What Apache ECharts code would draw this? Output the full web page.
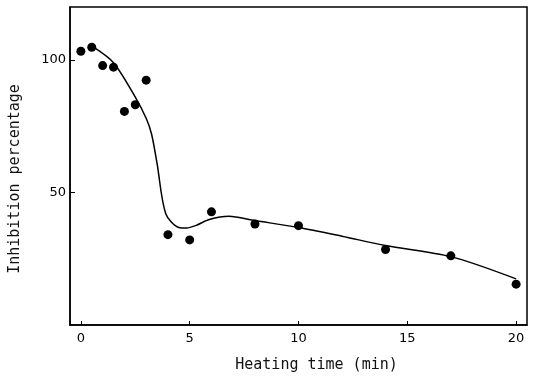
<!DOCTYPE html>
<html>
<head>
<meta charset="utf-8">
<script src="https://cdn.jsdelivr.net/npm/echarts@6/dist/echarts.min.js"></script>
<style>
  html, body { margin: 0; padding: 0; background: #fff; }
  #chart { width: 540px; height: 380px; }
</style>
</head>
<body>
<div id="chart"></div>
<script>
  // measured points
  var heatTime = [0, 0.5, 1, 1.5, 2, 2.5, 3, 4, 5, 6, 8, 10, 14, 17, 20]
  var inhibition = [103.3, 104.8, 97.9, 97.3, 80.6, 83.1, 92.4, 34.1, 32.1, 42.7, 38.1, 37.5, 28.5, 26.1, 15.4]

  // fitted curve drawn by hand in the original
  var curveX = [0.6, 1.5, 2.5, 3.0, 3.25, 3.5, 3.9, 4.5, 4.85, 5.3, 5.9, 6.8, 8, 10, 12, 14, 17, 20]
  var curveY = [104.8, 99, 86, 78, 72, 61, 42, 36.8, 36.6, 37.6, 39.8, 41, 39.4, 36.8, 33.5, 30, 25.8, 17.4]

  var xTicks = [0, 5, 10, 15, 20]
  var yTicks = [50, 100]

  var chart = echarts.init(document.getElementById('chart'))

  var option = {
    animation: false,
    grid: {
      left: 69,
      right: 13,
      top: 7,
      bottom: 55,
      show: true,
      borderColor: '#000',
      borderWidth: 1.5
    },
    xAxis: {
      type: 'value',
      min: -0.5,
      max: 20.5,
      name: 'Heating time (min)',
      nameLocation: 'middle',
      nameGap: 33,
      nameTextStyle: {
        fontFamily: 'DejaVu Sans Mono',
        fontSize: 15,
        color: '#111',
        padding: [0, 0, 0, 36]
      },
      splitLine: { show: false },
      axisLine: { onZero: false, lineStyle: { color: '#000', width: 1.5 } },
      axisTick: { inside: true, length: 4, customValues: xTicks, lineStyle: { color: '#000' } },
      axisLabel: {
        customValues: xTicks,
        margin: 7,
        fontFamily: 'DejaVu Sans',
        fontSize: 13,
        color: '#000'
      }
    },
    yAxis: {
      type: 'value',
      min: 0,
      max: 120,
      name: 'Inhibition percentage',
      nameLocation: 'middle',
      nameGap: 47,
      nameTextStyle: {
        fontFamily: 'DejaVu Sans Mono',
        fontSize: 15,
        color: '#111',
        padding: [0, 26, 0, 0]
      },
      splitLine: { show: false },
      axisLine: { show: true, onZero: false, lineStyle: { color: '#000', width: 1.5 } },
      axisTick: { show: true, inside: true, length: 5, customValues: yTicks, lineStyle: { color: '#000' } },
      axisLabel: {
        customValues: yTicks,
        margin: 4,
        fontFamily: 'DejaVu Sans',
        fontSize: 13,
        color: '#000'
      }
    },
    series: [
      {
        name: 'curve',
        type: 'line',
        smooth: 0.3,
        showSymbol: false,
        data: curveX.map(function (x, i) { return [x, curveY[i]] }),
        lineStyle: { color: '#000', width: 1.5 }
      },
      {
        name: 'measured',
        type: 'scatter',
        symbolSize: 9,
        data: heatTime.map(function (x, i) { return [x, inhibition[i]] }),
        itemStyle: { color: '#000', opacity: 1 }
      }
    ]
  }

  chart.setOption(option)
</script>
</body>
</html>
